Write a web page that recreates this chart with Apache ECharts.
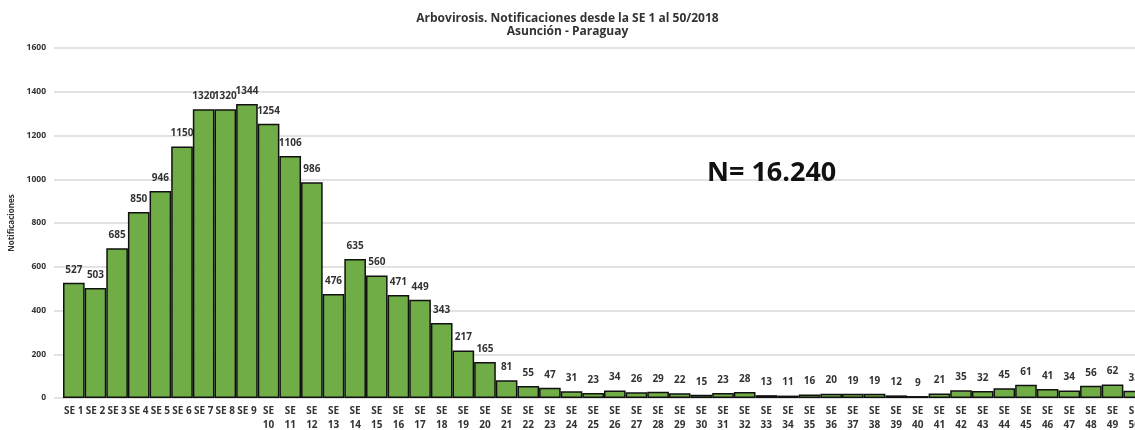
<!DOCTYPE html>
<html>
<head>
<meta charset="utf-8">
<script src="https://cdn.jsdelivr.net/npm/echarts@6/dist/echarts.min.js"></script>
<style>
  html, body { margin: 0; padding: 0; background: #fff; overflow: hidden; }
  #chart { width: 1135px; height: 430px; }
</style>
</head>
<body>
<div id="chart"></div>
<script>
// semanas epidemiologicas 1..50
const weeks = Array.from({ length: 50 }, (_, i) => 'SE ' + (i + 1))
const notificaciones = [
  527, 503, 685, 850, 946, 1150, 1320, 1320, 1344, 1254,
  1106, 986, 476, 635, 560, 471, 449, 343, 217, 165,
  81, 55, 47, 31, 23, 34, 26, 29, 22, 15,
  23, 28, 13, 11, 16, 20, 19, 19, 12, 9,
  21, 35, 32, 45, 61, 41, 34, 56, 62, 33,
]
const yTicks = [0, 200, 400, 600, 800, 1000, 1200, 1400, 1600]
const titleText = 'Arbovirosis. Notificaciones desde la SE 1 al 50/2018'
const subtitleText = 'Asunción - Paraguay'
const totalText = 'N= 16.240'

const font = '"Open Sans", "Noto Sans", sans-serif'
const chart = echarts.init(document.getElementById('chart'))

chart.setOption({
  animation: false,
  textStyle: { fontFamily: font },
  title: {
    text: titleText,
    subtext: subtitleText,
    left: 'center',
    top: 8,
    itemGap: 1,
    textStyle: { fontSize: 12, fontWeight: 'bold', color: '#333', fontFamily: font },
    subtextStyle: { fontSize: 12, fontWeight: 'bold', color: '#333', fontFamily: font },
  },
  // the last bar runs past the right edge, as in the original export
  grid: { left: 63, right: -10, top: 48, bottom: 32, containLabel: false, outerBoundsMode: 'none' },
  xAxis: {
    type: 'category',
    data: weeks,
    axisLine: { lineStyle: { color: '#d9d9d9', width: 1.5 } },
    axisTick: { show: false },
    axisLabel: {
      interval: 0,
      margin: 6,
      fontSize: 10,
      fontWeight: 'bold',
      color: '#333',
      lineHeight: 14,
      formatter: (v) => (v.length > 4 ? v.replace(' ', '\n') : v),
    },
  },
  yAxis: {
    type: 'value',
    min: yTicks[0],
    max: yTicks[yTicks.length - 1],
    interval: 200,
    name: 'Notificaciones',
    nameLocation: 'middle',
    nameGap: 43,
    nameTextStyle: { fontSize: 8, fontWeight: 'bold', color: '#333' },
    axisLine: { show: false },
    axisTick: { show: true, length: 9, lineStyle: { color: '#d9d9d9', width: 1.5 } },
    axisLabel: { fontSize: 8.5, fontWeight: 'bold', color: '#333', margin: 17, formatter: (v) => String(v) },
    splitLine: { lineStyle: { color: '#d9d9d9', width: 1.5 } },
  },
  series: [
    {
      type: 'bar',
      data: notificaciones,
      barCategoryGap: 0,
      itemStyle: { color: '#70ad47', borderColor: '#111', borderWidth: 1.5 },
      label: {
        show: true,
        position: 'top',
        distance: 8,
        fontSize: 10,
        fontWeight: 'bold',
        color: '#333',
      },
    },
  ],
  graphic: [
    {
      type: 'text',
      left: 707,
      top: 160,
      z: 100,
      style: { text: totalText, fontSize: 27, fontWeight: 'bold', fill: '#111', fontFamily: font },
    },
  ],
})
</script>
</body>
</html>
